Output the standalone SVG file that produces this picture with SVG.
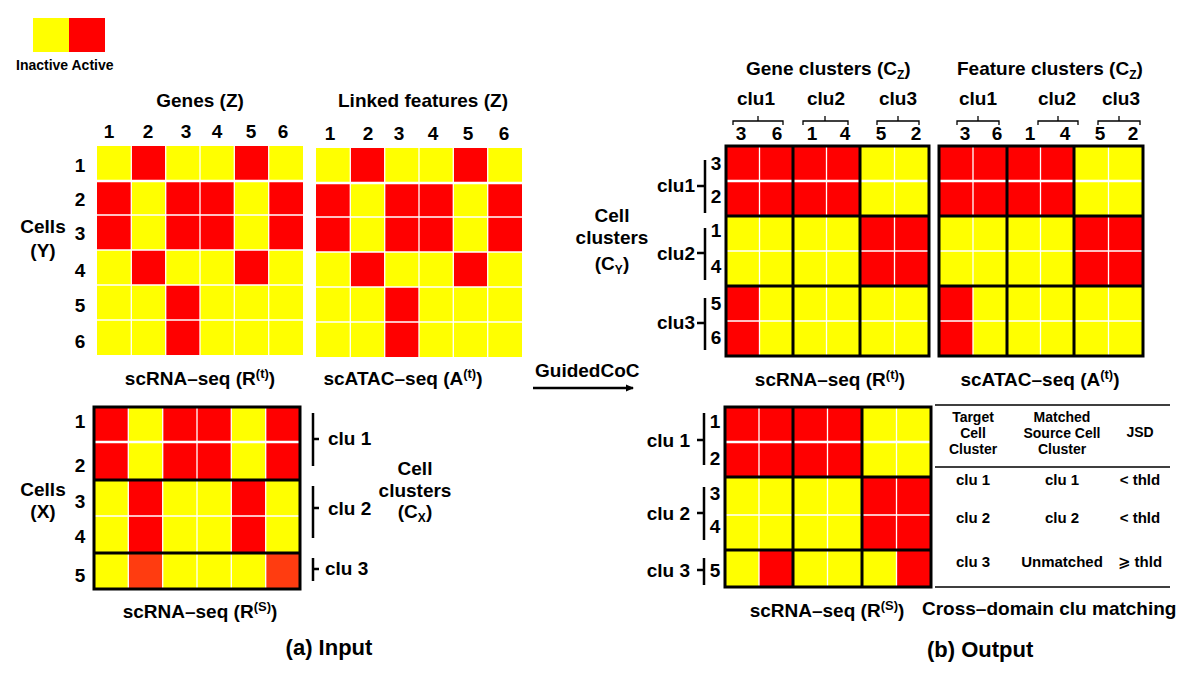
<svg xmlns="http://www.w3.org/2000/svg" width="1200" height="673" viewBox="0 0 1200 673">
<style>
.t{font-family:"Liberation Sans",Arial,"DejaVu Sans",sans-serif;font-weight:bold;font-size:19px;fill:#000}
.m{text-anchor:middle}
.e{text-anchor:end}
.tb{font-family:"Liberation Sans",Arial,"DejaVu Sans",sans-serif;font-weight:bold;font-size:14px;fill:#000;text-anchor:middle}
.Y{fill:#ffff00}
.R{fill:#ff0000}
.O{fill:#ff3c10}
.wg{stroke:#fff;stroke-width:1.3;fill:none}
.wt{stroke:#fff;stroke-width:2.6;fill:none}
.bk{stroke:#000;stroke-width:3;fill:none}
.br{stroke:#000;stroke-width:2.5;fill:none}
.cb{stroke:#000;stroke-width:1.3;fill:none}
.ln{stroke:#000;stroke-width:1.5;fill:none}
</style>
<defs>
<marker id="ah" markerWidth="8" markerHeight="8" refX="7" refY="4" orient="auto" markerUnits="userSpaceOnUse">
<path d="M0,0.5 L8,4 L0,7.5 Z" fill="#000"/>
</marker>
</defs>
<rect width="1200" height="673" fill="#fff"/>

<g id="legend">
<rect class="Y" x="33" y="18" width="36" height="34"/>
<rect class="R" x="69" y="18" width="36" height="34"/>
<text class="t" x="16" y="70" style="font-size:14px">Inactive Active</text>
</g>

<g id="genes-rt">
<text class="t m" x="200" y="107">Genes (Z)</text>
<text class="t m" x="109" y="138">1</text><text class="t m" x="148" y="138">2</text><text class="t m" x="186" y="138">3</text><text class="t m" x="217" y="138">4</text><text class="t m" x="251" y="138">5</text><text class="t m" x="283" y="138">6</text>
<text class="t m" x="80" y="172">1</text><text class="t m" x="80" y="206">2</text><text class="t m" x="80" y="240">3</text><text class="t m" x="80" y="277">4</text><text class="t m" x="80" y="312">5</text><text class="t m" x="80" y="348">6</text>
<text class="t m" x="43" y="233">Cells</text><text class="t m" x="43" y="257">(Y)</text>
<rect class="Y" x="97" y="146" width="206" height="209"/>
<rect class="R" x="131.3" y="146" width="34.4" height="35"/><rect class="R" x="234.3" y="146" width="34.4" height="35"/>
<rect class="R" x="97" y="181" width="34.3" height="69"/><rect class="R" x="165.7" y="181" width="68.6" height="69"/><rect class="R" x="268.7" y="181" width="34.3" height="69"/>
<rect class="R" x="131.3" y="250" width="34.4" height="35"/><rect class="R" x="234.3" y="250" width="34.4" height="35"/>
<rect class="R" x="165.7" y="285" width="34.3" height="70"/>
<path class="wg" d="M131.3 146V355M165.7 146V355M200 146V355M234.3 146V355M268.7 146V355M97 215H303M97 250H303M97 285H303M97 320H303"/>
<path class="wt" d="M97 181H303"/>
<text class="t m" x="200" y="385">scRNA–seq (R<tspan style="font-size:13px" dy="-7">(t)</tspan><tspan dy="7">)</tspan></text>
</g>

<g id="atac-at">
<text class="t m" x="423" y="107">Linked features (Z)</text>
<text class="t m" x="330" y="140">1</text><text class="t m" x="368" y="140">2</text><text class="t m" x="399" y="140">3</text><text class="t m" x="433" y="140">4</text><text class="t m" x="468" y="140">5</text><text class="t m" x="504" y="140">6</text>
<rect class="Y" x="316" y="148" width="206" height="209"/>
<rect class="R" x="350.3" y="148" width="34.4" height="35"/><rect class="R" x="453.3" y="148" width="34.4" height="35"/>
<rect class="R" x="316" y="183" width="34.3" height="69"/><rect class="R" x="384.7" y="183" width="68.6" height="69"/><rect class="R" x="487.7" y="183" width="34.3" height="69"/>
<rect class="R" x="350.3" y="252" width="34.4" height="35"/><rect class="R" x="453.3" y="252" width="34.4" height="35"/>
<rect class="R" x="384.7" y="287" width="34.3" height="70"/>
<path class="wg" d="M350.3 148V357M384.7 148V357M419 148V357M453.3 148V357M487.7 148V357M316 217H522M316 252H522M316 287H522M316 322H522"/>
<path class="wt" d="M316 183H522"/>
<text class="t m" x="403" y="385">scATAC–seq (A<tspan style="font-size:13px" dy="-7">(t)</tspan><tspan dy="7">)</tspan></text>
</g>

<g id="source-rs">
<text class="t m" x="80" y="428">1</text><text class="t m" x="80" y="472">2</text><text class="t m" x="80" y="508">3</text><text class="t m" x="80" y="543">4</text><text class="t m" x="80" y="582">5</text>
<text class="t m" x="43" y="496">Cells</text><text class="t m" x="43" y="518">(X)</text>
<rect class="Y" x="94" y="407" width="206" height="182"/>
<rect class="R" x="94" y="407" width="34.3" height="73"/><rect class="R" x="162.7" y="407" width="68.6" height="73"/><rect class="R" x="265.7" y="407" width="34.3" height="73"/>
<rect class="R" x="128.3" y="480" width="34.4" height="73"/><rect class="R" x="231.3" y="480" width="34.4" height="73"/>
<rect class="O" x="128.3" y="553" width="34.4" height="36"/><rect class="O" x="265.7" y="553" width="34.3" height="36"/>
<path class="wg" d="M128.3 407V589M162.7 407V589M197 407V589M231.3 407V589M265.7 407V589M94 516H300"/>
<path class="wt" d="M94 442H300"/>
<rect class="bk" x="94" y="407" width="206" height="182"/>
<path class="bk" d="M94 480H300M94 553H300"/>
<path class="br" d="M313 413V466M313 439H319M313 486V538M313 508H319M313 558V581M313 569H319"/>
<text class="t" x="328" y="445">clu 1</text>
<text class="t" x="328" y="515">clu 2</text>
<text class="t" x="325" y="575">clu 3</text>
<text class="t m" x="415" y="475">Cell</text><text class="t m" x="415" y="497">clusters</text>
<text class="t m" x="415" y="518">(C<tspan style="font-size:12px" dy="4">X</tspan><tspan dy="-4">)</tspan></text>
<text class="t m" x="200" y="618">scRNA–seq (R<tspan style="font-size:13px" dy="-7">(S)</tspan><tspan dy="7">)</tspan></text>
<text class="t m" x="329" y="655" style="font-size:22px">(a) Input</text>
</g>

<g id="connectors">
<text class="t" x="535" y="377">GuidedCoC</text>
<path d="M533 388H633" stroke="#000" stroke-width="2.5" marker-end="url(#ah)"/>
</g>

<g id="out-genes">
<text class="t" x="746" y="75">Gene clusters (C<tspan style="font-size:12px" dy="4">Z</tspan><tspan dy="-4">)</tspan></text>
<text class="t m" x="756" y="105">clu1</text><text class="t m" x="826" y="105">clu2</text><text class="t m" x="898" y="105">clu3</text>
<path class="cb" d="M733 125V121H783V125M758 121V116M803 125V121H848V125M825 121V116M877 125V121H919V125M898 121V116"/>
<text class="t m" x="741" y="140">3</text><text class="t m" x="777" y="140">6</text><text class="t m" x="812" y="140">1</text><text class="t m" x="845" y="140">4</text><text class="t m" x="881" y="140">5</text><text class="t m" x="916" y="140">2</text>
<rect class="Y" x="726" y="146" width="203" height="210"/>
<rect class="R" x="726" y="146" width="134" height="70"/>
<rect class="R" x="860" y="216" width="69" height="70"/>
<rect class="R" x="726" y="286" width="33.5" height="70"/>
<path class="wg" d="M759.5 146V356M826.5 146V356M894.5 146V356M726 251H929M726 321H929"/>
<path class="wt" d="M726 181H929"/>
<rect class="bk" x="726" y="146" width="203" height="210"/>
<path class="bk" d="M793 146V356M860 146V356M726 216H929M726 286H929"/>
<text class="t m" x="612" y="222">Cell</text><text class="t m" x="612" y="244">clusters</text>
<text class="t m" x="612" y="270">(C<tspan style="font-size:12px" dy="4">Y</tspan><tspan dy="-4">)</tspan></text>
<text class="t e" x="695" y="192">clu1</text><text class="t e" x="695" y="260">clu2</text><text class="t e" x="695" y="329">clu3</text>
<path class="br" d="M705 160V213M697 186H705M705 228V280M697 253H705M705 298V350M697 323H705"/>
<text class="t m" x="716" y="170">3</text><text class="t m" x="716" y="203">2</text><text class="t m" x="716" y="237">1</text><text class="t m" x="716" y="273">4</text><text class="t m" x="716" y="310">5</text><text class="t m" x="716" y="344">6</text>
<text class="t m" x="830" y="386">scRNA–seq (R<tspan style="font-size:13px" dy="-7">(t)</tspan><tspan dy="7">)</tspan></text>
</g>

<g id="out-atac">
<text class="t" x="957" y="75">Feature clusters (C<tspan style="font-size:12px" dy="4">Z</tspan><tspan dy="-4">)</tspan></text>
<text class="t m" x="978" y="105">clu1</text><text class="t m" x="1057" y="105">clu2</text><text class="t m" x="1121" y="105">clu3</text>
<path class="cb" d="M957 125V121H999V125M978 121V116M1038 125V121H1078V125M1058 121V116M1098 125V121H1140V125M1119 121V116"/>
<text class="t m" x="965" y="140">3</text><text class="t m" x="997" y="140">6</text><text class="t m" x="1030" y="140">1</text><text class="t m" x="1065" y="140">4</text><text class="t m" x="1100" y="140">5</text><text class="t m" x="1133" y="140">2</text>
<rect class="Y" x="939" y="146" width="204" height="210"/>
<rect class="R" x="939" y="146" width="135" height="70"/>
<rect class="R" x="1074" y="216" width="69" height="70"/>
<rect class="R" x="939" y="286" width="34" height="70"/>
<path class="wg" d="M973 146V356M1040.5 146V356M1108.5 146V356M939 251H1143M939 321H1143"/>
<path class="wt" d="M939 181H1143"/>
<rect class="bk" x="939" y="146" width="204" height="210"/>
<path class="bk" d="M1007 146V356M1074 146V356M939 216H1143M939 286H1143"/>
<text class="t m" x="1040" y="386">scATAC–seq (A<tspan style="font-size:13px" dy="-7">(t)</tspan><tspan dy="7">)</tspan></text>
</g>

<g id="out-source">
<rect class="Y" x="725" y="407" width="206" height="180"/>
<rect class="R" x="725" y="407" width="137" height="70"/>
<rect class="R" x="862" y="477" width="69" height="73"/>
<rect class="R" x="759" y="550" width="34" height="37"/><rect class="R" x="896.5" y="550" width="34.5" height="37"/>
<path class="wg" d="M759 407V587M827.5 407V587M896.5 407V587M725 515H931"/>
<path class="wt" d="M725 442H931"/>
<rect class="bk" x="725" y="407" width="206" height="180"/>
<path class="bk" d="M793 407V587M862 407V587M725 477H931M725 550H931"/>
<text class="t e" x="690" y="447">clu 1</text><text class="t e" x="690" y="520">clu 2</text><text class="t e" x="690" y="577">clu 3</text>
<path class="br" d="M704 413V465M697 440H704M704 487V540M697 513H704M704 558V585M697 570H704"/>
<text class="t m" x="715" y="428">1</text><text class="t m" x="715" y="465">2</text><text class="t m" x="715" y="500">3</text><text class="t m" x="715" y="533">4</text><text class="t m" x="715" y="577">5</text>
<text class="t m" x="827" y="617">scRNA–seq (R<tspan style="font-size:13px" dy="-7">(S)</tspan><tspan dy="7">)</tspan></text>
</g>

<g id="match-table">
<path class="ln" d="M935 405H1170M935 467H1170M935 587H1170"/>
<text class="tb" x="973" y="422">Target</text><text class="tb" x="973" y="438">Cell</text><text class="tb" x="973" y="454">Cluster</text>
<text class="tb" x="1062" y="422">Matched</text><text class="tb" x="1062" y="438">Source Cell</text><text class="tb" x="1062" y="454">Cluster</text>
<text class="tb" x="1140" y="437">JSD</text>
<text class="tb" x="973" y="485" style="font-size:15px">clu 1</text><text class="tb" x="1062" y="485" style="font-size:15px">clu 1</text><text class="tb" x="1140" y="485" style="font-size:15px">&lt; thld</text>
<text class="tb" x="973" y="523" style="font-size:15px">clu 2</text><text class="tb" x="1062" y="523" style="font-size:15px">clu 2</text><text class="tb" x="1140" y="523" style="font-size:15px">&lt; thld</text>
<text class="tb" x="973" y="567" style="font-size:15px">clu 3</text><text class="tb" x="1062" y="567" style="font-size:15px">Unmatched</text><text class="tb" x="1140" y="567" style="font-size:15px">⩾ thld</text>
<text class="t" x="922" y="615">Cross–domain clu matching</text>
<text class="t" x="927" y="657" style="font-size:22px">(b) Output</text>
</g>
</svg>
